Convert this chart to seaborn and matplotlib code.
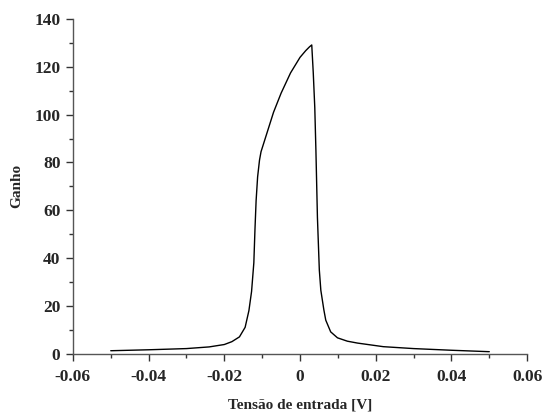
import matplotlib
matplotlib.use("Agg")
import matplotlib.pyplot as plt
from matplotlib.ticker import MultipleLocator, FuncFormatter
import seaborn as sns
import pandas as pd

tensao = [-0.050, -0.040, -0.030, -0.024, -0.020, -0.018, -0.016, -0.0145, -0.0135,
          -0.0128, -0.0122, -0.0119, -0.0116, -0.0112, -0.0107, -0.0103, -0.0098,
          -0.009, -0.008, -0.007, -0.005, -0.0025, 0.000, 0.0015, 0.0025, 0.0031,
          0.0035, 0.0039, 0.0042, 0.0046, 0.0051, 0.0055, 0.0063, 0.0068, 0.0081,
          0.0099, 0.0125, 0.0152, 0.022, 0.030, 0.040, 0.050]
ganho = [1.2, 1.6, 2.1, 2.8, 3.8, 5.0, 7.0, 11.0, 18.0,
         26.0, 38.0, 52.0, 64.0, 74.0, 81.0, 84.5, 87.0,
         91.0, 96.0, 101.0, 109.0, 117.5, 124.0, 126.8, 128.4, 129.2,
         117.5, 103.0, 85.0, 57.0, 35.0, 26.5, 18.3, 14.0, 9.1,
         6.6, 5.2, 4.4, 2.9, 2.1, 1.4, 0.8]

df = pd.DataFrame({"x": tensao, "y": ganho})

sns.set_style("white")
plt.rcParams["font.family"] = ["Liberation Serif", "DejaVu Serif"]
plt.rcParams["axes.unicode_minus"] = False

fig = plt.figure(figsize=(5.44, 4.16), dpi=100)
ax = fig.add_axes([0.134, 0.150, 0.835, 0.804])
sns.lineplot(data=df, x="x", y="y", ax=ax, color="black", linewidth=1.0,
             sort=False, estimator=None)

ax.set_xlim(-0.06, 0.06)
ax.set_ylim(0, 140)
for s in ["top", "right"]:
    ax.spines[s].set_visible(False)
for s in ["left", "bottom"]:
    ax.spines[s].set_color("#555555")
    ax.spines[s].set_linewidth(1.0)

ax.xaxis.set_major_locator(MultipleLocator(0.02))
ax.xaxis.set_minor_locator(MultipleLocator(0.01))
ax.yaxis.set_major_locator(MultipleLocator(20))
ax.yaxis.set_minor_locator(MultipleLocator(10))
ax.xaxis.set_major_formatter(FuncFormatter(lambda v, p: "0" if abs(v) < 1e-9 else f"{v:.2f}"))
ax.yaxis.set_major_formatter(FuncFormatter(lambda v, p: f"{v:.0f}"))
ax.tick_params(axis="both", which="both", direction="out", color="#333333",
               bottom=True, left=True)
ax.tick_params(axis="both", which="major", length=5, width=1, labelsize=12.5, pad=4)
ax.tick_params(axis="x", which="major", pad=6)
ax.tick_params(axis="both", which="minor", length=3, width=1)
for lab in ax.get_xticklabels() + ax.get_yticklabels():
    lab.set_fontweight("bold")

ax.set_xlabel("Tensão de entrada [V]", fontsize=11, fontweight="bold", labelpad=10)
ax.set_ylabel("Ganho", fontsize=11, fontweight="bold", labelpad=8)

fig.savefig("out.png", dpi=100)
